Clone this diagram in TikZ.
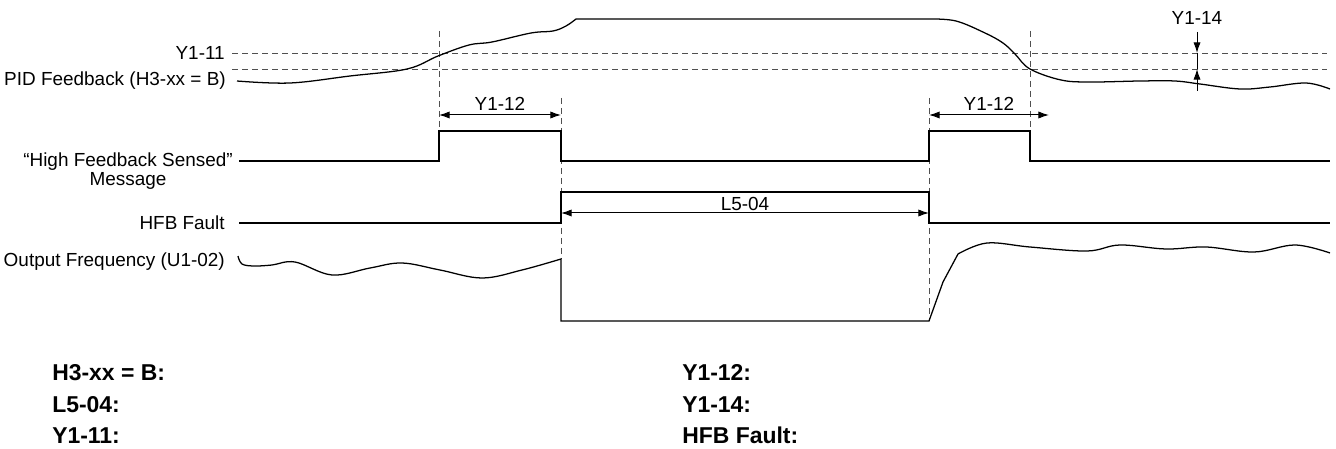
\documentclass[tikz,border=0pt]{standalone}
\usepackage{fontspec}
\setmainfont{Liberation Sans}
\usetikzlibrary{arrows.meta}
\definecolor{guidegray}{RGB}{80,80,80}

\tikzset{
  sig/.style={line width=0.95pt,black},
  guide/.style={guidegray,line width=0.7pt,dash pattern=on 4.5pt off 3pt},
  dim/.style={line width=0.75pt,{Latex[length=8pt,width=5.4pt]}-{Latex[length=8pt,width=5.4pt]}},
  lbl/.style={font=\fontsize{14.2}{13.6}\selectfont,inner sep=0pt},
  key/.style={font=\fontsize{17.2}{20}\selectfont\bfseries,inner sep=0pt,anchor=base west}
}

\begin{document}
\begin{tikzpicture}[x=0.75pt,y=-0.75pt,>={Latex[length=8pt,width=5.4pt]}]
  \useasboundingbox (0,0) rectangle (1336,449);
  % switching times
  \coordinate (T1) at (439,0);
  \coordinate (T2) at (561,0);
  \coordinate (T3) at (929,0);
  \coordinate (T4) at (1030,0);

  % signal names
  \node[lbl,anchor=east] (y11lbl) at (225,53) {Y1-11};
  \node[lbl,anchor=east] (pidlbl) at (226,81) {PID Feedback (H3-xx = B)};
  \node[lbl,anchor=north east,align=center] (msglbl) at (233,153) {``High Feedback Sensed''\\Message};
  \node[lbl,anchor=east] (hfblbl) at (225,223) {HFB Fault};
  \node[lbl,anchor=east] (freqlbl) at (225,262) {Output Frequency (U1-02)};

  % detection levels
  \draw[guide] (232,53) -- (1327,53);
  \draw[guide] (232,69) -- (1327,69);
  \draw[guide] (T1 |- 0,31) -- (T1 |- 0,131);
  \draw[guide] (T2 |- 0,98) -- (T2 |- 0,259);
  \draw[guide] (T3 |- 0,98) -- (T3 |- 0,321);
  \draw[guide] (T4 |- 0,31) -- (T4 |- 0,131);

  % PID feedback
  \draw[sig] plot[smooth,tension=0.6] coordinates {(237,81) (290,83) (350,76) (407,69) (438,56) (469,45) (492,42) (531,33) (553,31) (566,26) (576,19)}
    -- (930,19)
    plot[smooth,tension=0.6] coordinates {(930,19) (956,21) (985,33) (1003,43) (1015,54) (1030,69) (1061,80) (1090,82) (1140,81) (1175,81) (1200,84) (1240,89) (1270,87) (1306,83) (1330,89)};

  % message, fault
  \draw[sig] (239,161) -- (T1 |- 0,161) -- (T1 |- 0,131) -- (T2 |- 0,131) -- (T2 |- 0,161)
    -- (T3 |- 0,161) -- (T3 |- 0,131) -- (T4 |- 0,131) -- (T4 |- 0,161) -- (1330,161);
  \draw[sig] (239,223) -- (T2 |- 0,223) -- (T2 |- 0,192) -- (T3 |- 0,192) -- (T3 |- 0,223) -- (1330,223);

  % output frequency
  \draw[sig] plot[smooth,tension=0.6] coordinates {(238,256) (242,264) (254,266) (272,265) (295,262) (332,275) (370,268) (402,263) (440,270) (482,278) (522,270) (561,259)}
    -- (T2 |- 0,321) -- (T3 |- 0,321) -- (943,282) -- (958,254)
    plot[smooth,tension=0.6] coordinates {(958,254) (987,243) (1030,247) (1087,251) (1120,245) (1166,249) (1206,247) (1254,252) (1295,245) (1330,253)};

  % time spans
  \coordinate (a1) at (T1 |- 0,115);
  \coordinate (a2) at (T2 |- 0,115);
  \coordinate (b1) at (T3 |- 0,115);
  \coordinate (b2) at (1049,115);
  \coordinate (c1) at (T2 |- 0,213);
  \coordinate (c2) at (T3 |- 0,213);
  \draw[dim] (a1) -- (a2);
  \draw[dim] (b1) -- (b2);
  \draw[dim] (c1) -- (c2);
  \node[lbl] (y12a) at (500,104) {Y1-12};
  \node[lbl] (y12b) at (989,104) {Y1-12};
  \node[lbl] (l504) at (745,204) {L5-04};

  % hysteresis band
  \node[lbl] (y14) at (1197,18) {Y1-14};
  \coordinate (h0) at (1197,32);
  \coordinate (h1) at (1197,53);
  \coordinate (h2) at (1197,69);
  \coordinate (h3) at (1197,91);
  \draw[line width=0.6pt] (h1) -- (h2);
  \draw[->,line width=0.75pt] (h0) -- (h1);
  \draw[->,line width=0.75pt] (h3) -- (h2);

  % legend
  \foreach \k/\x/\y/\t in {kh/52/380/{H3-xx = B:},kl/52/412/{L5-04:},ky/52/443/{Y1-11:},
                           kt/682/380/{Y1-12:},kw/682/412/{Y1-14:},kf/682/443/{HFB Fault:}}
    {\node[key] (\k) at (\x,\y) {\t};}
\end{tikzpicture}
\end{document}
